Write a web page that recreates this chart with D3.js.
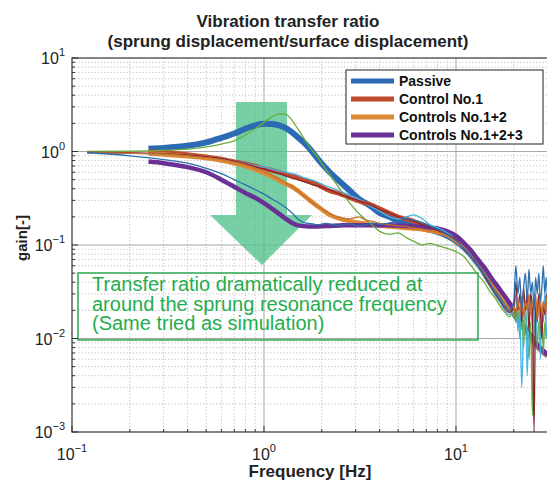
<!DOCTYPE html>
<html>
<head>
<meta charset="utf-8">
<script src="https://cdn.jsdelivr.net/npm/d3@7"></script>
<style>
  body { margin: 0; background: #fff; }
  text { font-family: "Liberation Sans", Arial, Helvetica, sans-serif; }
</style>
</head>
<body>
<div id="chart"></div>
<script>
// simulation curves (thick)
const simFreq = [0.25, 0.3, 0.4, 0.5, 0.6, 0.7, 0.8, 0.9, 1.0, 1.1, 1.2, 1.3, 1.4, 1.5, 1.7, 1.9, 2.2, 2.5, 2.8, 3.2, 3.6, 4, 4.5, 5, 6, 7, 8, 9, 10, 11, 12, 13, 14, 15, 17, 19, 21, 24, 27, 30];
const simPassive = [1.07, 1.09, 1.15, 1.25, 1.4, 1.56, 1.75, 1.9, 1.98, 1.97, 1.9, 1.78, 1.6, 1.42, 1.12, 0.84, 0.6, 0.47, 0.38, 0.3, 0.26, 0.22, 0.2, 0.18, 0.16, 0.148, 0.138, 0.125, 0.11, 0.094, 0.078, 0.063, 0.052, 0.043, 0.03, 0.022, 0.016, 0.011, 0.008, 0.0066];
const simCtrl1 = [1.0, 0.98, 0.93, 0.88, 0.83, 0.78, 0.74, 0.7, 0.66, 0.63, 0.6, 0.57, 0.55, 0.52, 0.48, 0.44, 0.38, 0.35, 0.32, 0.29, 0.27, 0.245, 0.22, 0.2, 0.18, 0.16, 0.145, 0.13, 0.112, 0.095, 0.079, 0.064, 0.053, 0.044, 0.031, 0.022, 0.016, 0.011, 0.008, 0.0066];
const simCtrl12 = [0.95, 0.93, 0.89, 0.85, 0.8, 0.75, 0.7, 0.64, 0.59, 0.54, 0.49, 0.45, 0.42, 0.38, 0.31, 0.26, 0.21, 0.19, 0.18, 0.172, 0.166, 0.162, 0.158, 0.155, 0.15, 0.145, 0.138, 0.128, 0.112, 0.096, 0.08, 0.065, 0.054, 0.045, 0.031, 0.022, 0.016, 0.011, 0.008, 0.0066];
const simCtrl123 = [0.78, 0.75, 0.68, 0.6, 0.5, 0.42, 0.36, 0.32, 0.28, 0.245, 0.215, 0.19, 0.172, 0.162, 0.158, 0.158, 0.16, 0.162, 0.163, 0.163, 0.163, 0.163, 0.163, 0.162, 0.158, 0.155, 0.15, 0.14, 0.125, 0.105, 0.087, 0.07, 0.058, 0.047, 0.033, 0.024, 0.017, 0.0115, 0.0082, 0.0067];

// measured curves (thin)
const measFreq = [0.12, 0.2, 0.3, 0.4, 0.5, 0.6, 0.7, 0.8, 0.9, 1.0, 1.1, 1.2, 1.3, 1.4, 1.5, 1.6, 1.7, 1.8, 1.9, 2.1, 2.4, 2.8, 3.1, 3.4, 3.7, 4.0, 4.5, 5.0, 5.5, 6.0, 6.7, 7.3, 8.2, 9.0, 10,
  11, 12, 13, 14, 15, 16, 17, 18, 19, 20, 20.5, 21, 21.5, 22, 22.5, 23, 23.5, 24, 24.5, 25, 25.5, 26, 26.5, 27, 27.5, 28, 28.5, 29, 29.5, 30];
const measPassive = [1.0, 1.01, 1.03, 1.06, 1.12, 1.2, 1.3, 1.5, 1.75, 2.05, 2.35, 2.52, 2.5, 2.15, 1.75, 1.42, 1.18, 1.0, 0.87, 0.64, 0.44, 0.28, 0.22, 0.185, 0.16, 0.14, 0.13, 0.135, 0.12, 0.11, 0.1, 0.104, 0.097, 0.092, 0.085,
  0.075, 0.06, 0.048, 0.04, 0.032, 0.027, 0.022, 0.019, 0.017, 0.02, 0.015, 0.022, 0.01, 0.018, 0.008, 0.02, 0.012, 0.006, 0.015, 0.0015, 0.012, 0.02, 0.008, 0.015, 0.01, 0.02, 0.007, 0.015, 0.01, 0.012];
const measCtrl1 = [0.98, 0.97, 0.95, 0.92, 0.88, 0.84, 0.79, 0.74, 0.69, 0.65, 0.61, 0.58, 0.55, 0.52, 0.5, 0.48, 0.46, 0.44, 0.43, 0.4, 0.36, 0.32, 0.3, 0.28, 0.26, 0.24, 0.22, 0.2, 0.19, 0.18, 0.165, 0.155, 0.14, 0.13, 0.115,
  0.09, 0.074, 0.06, 0.047, 0.037, 0.03, 0.025, 0.021, 0.019, 0.022, 0.04, 0.02, 0.03, 0.015, 0.035, 0.02, 0.03, 0.012, 0.03, 0.02, 0.001, 0.025, 0.015, 0.03, 0.02, 0.01, 0.025, 0.018, 0.03, 0.015];
const measOther = [0.97, 0.96, 0.94, 0.91, 0.87, 0.83, 0.79, 0.75, 0.71, 0.68, 0.65, 0.62, 0.6, 0.58, 0.56, 0.53, 0.51, 0.49, 0.47, 0.43, 0.39, 0.34, 0.31, 0.28, 0.25, 0.23, 0.2, 0.19, 0.2, 0.21, 0.19, 0.165, 0.15, 0.135, 0.115,
  0.088, 0.072, 0.058, 0.045, 0.036, 0.029, 0.024, 0.02, 0.018, 0.02, 0.03, 0.012, 0.02, 0.003, 0.015, 0.025, 0.004, 0.02, 0.03, 0.012, 0.025, 0.009, 0.02, 0.03, 0.006, 0.02, 0.015, 0.03, 0.01, 0.02];
const measCtrl12 = [0.97, 0.96, 0.94, 0.9, 0.86, 0.82, 0.77, 0.72, 0.66, 0.61, 0.56, 0.51, 0.46, 0.42, 0.38, 0.34, 0.31, 0.28, 0.26, 0.23, 0.2, 0.19, 0.2, 0.185, 0.178, 0.17, 0.165, 0.16, 0.158, 0.152, 0.148, 0.142, 0.135, 0.125, 0.11,
  0.092, 0.076, 0.062, 0.05, 0.04, 0.032, 0.026, 0.022, 0.02, 0.022, 0.018, 0.025, 0.02, 0.028, 0.017, 0.025, 0.02, 0.03, 0.018, 0.025, 0.02, 0.03, 0.016, 0.022, 0.028, 0.018, 0.025, 0.02, 0.028, 0.02];
const measCtrl123 = [0.97, 0.9, 0.82, 0.75, 0.66, 0.58, 0.5, 0.44, 0.39, 0.35, 0.31, 0.28, 0.25, 0.22, 0.19, 0.175, 0.17, 0.168, 0.165, 0.17, 0.162, 0.168, 0.16, 0.165, 0.17, 0.166, 0.172, 0.18, 0.19, 0.185, 0.172, 0.16, 0.145, 0.13, 0.112,
  0.092, 0.076, 0.062, 0.049, 0.039, 0.031, 0.026, 0.022, 0.02, 0.025, 0.06, 0.03, 0.045, 0.02, 0.035, 0.05, 0.025, 0.055, 0.03, 0.04, 0.02, 0.045, 0.03, 0.05, 0.025, 0.035, 0.06, 0.03, 0.045, 0.025];

const legendNames = ["Passive", "Control No.1", "Controls No.1+2", "Controls No.1+2+3"];
const simColors = ["#2c6bb3", "#c24b2e", "#dc8936", "#6a3096"];
const xDecadeLabels = [-1, 0, 1];
const yDecadeLabels = [-3, -2, -1, 0, 1];
const noteLines = ["Transfer ratio dramatically reduced at", "around the sprung resonance frequency", "(Same tried as simulation)"];

const width = 547, height = 485;
const svg = d3.select("#chart").append("svg")
  .attr("width", width).attr("height", height);

const x = d3.scaleLog().domain([0.1, 30]).range([72, 547.6]);
const y = d3.scaleLog().domain([1e-3, 10]).range([432, 58]);
const [x0, x1] = x.range();
const [yb, yt] = y.range();

svg.append("defs").append("clipPath").attr("id", "plot")
  .append("rect").attr("x", x0).attr("y", yt).attr("width", x1 - x0).attr("height", yb - yt);

const isMajor = v => Math.abs(Math.log10(v) - Math.round(Math.log10(v))) < 1e-9;

// grid
const grid = svg.append("g");
grid.selectAll(".gx").data(x.ticks().filter(v => v > 0.1 && v < 30))
  .join("line")
  .attr("x1", d => x(d)).attr("x2", d => x(d)).attr("y1", yt).attr("y2", yb)
  .attr("stroke", d => isMajor(d) ? "#a8a8a8" : "#c4b8b8")
  .attr("stroke-width", d => isMajor(d) ? 1 : 0.9)
  .attr("stroke-dasharray", d => isMajor(d) ? null : "1.2,2");
grid.selectAll(".gy").data(y.ticks().filter(v => v > 1e-3 && v < 10))
  .join("line")
  .attr("y1", d => y(d)).attr("y2", d => y(d)).attr("x1", x0).attr("x2", x1)
  .attr("stroke", d => isMajor(d) ? "#a8a8a8" : "#c4b8b8")
  .attr("stroke-width", d => isMajor(d) ? 1 : 0.9)
  .attr("stroke-dasharray", d => isMajor(d) ? null : "1.2,2");

// big green arrow
const ax = x(1.0) - 2;
const arrow = d3.path();
arrow.moveTo(ax - 26, 102); arrow.lineTo(ax + 25, 102); arrow.lineTo(ax + 25, 215);
arrow.lineTo(ax + 50, 215); arrow.lineTo(ax, 265); arrow.lineTo(ax - 52, 215);
arrow.lineTo(ax - 26, 215); arrow.closePath();
svg.append("path").attr("d", arrow.toString())
  .attr("fill", "#4fc18c").attr("fill-opacity", 0.78);

const line = d3.line()
  .x(d => x(d[0])).y(d => y(d[1]))
  .curve(d3.curveMonotoneX);

const plot = svg.append("g").attr("clip-path", "url(#plot)");

const simSeries = [simPassive, simCtrl1, simCtrl12, simCtrl123];
const simWidths = [6, 4.5, 4.5, 4.5];
simSeries.forEach((vals, i) => {
  plot.append("path")
    .attr("d", line(simFreq.map((f, k) => [f, vals[k]])))
    .attr("fill", "none").attr("stroke", simColors[i])
    .attr("stroke-width", simWidths[i]).attr("stroke-linejoin", "round");
});

const measSeries = [measPassive, measOther, measCtrl1, measCtrl12, measCtrl123];
const measColors = ["#6aad3c", "#45b5e5", "#8a2430", "#c8702a", "#2a6fae"];
measSeries.forEach((vals, i) => {
  plot.append("path")
    .attr("d", line(measFreq.map((f, k) => [f, vals[k]])))
    .attr("fill", "none").attr("stroke", measColors[i])
    .attr("stroke-width", 1.3).attr("stroke-linejoin", "round");
});

// annotation box
svg.append("rect").attr("x", 78).attr("y", 273).attr("width", 400).attr("height", 67)
  .attr("fill", "none").attr("stroke", "#3dac5c").attr("stroke-width", 1.6);
svg.append("g").selectAll("text").data(noteLines).join("text")
  .attr("x", 92).attr("y", (d, i) => 291 + i * 19.6)
  .attr("font-size", 20).attr("fill", "#1fae4e")
  .text(d => d);

// axes box and ticks
const axis = svg.append("g").attr("stroke", "#333");
axis.append("rect").attr("x", x0).attr("y", yt).attr("width", x1 - x0).attr("height", yb - yt)
  .attr("fill", "none").attr("stroke-width", 1.2);
axis.selectAll(".tx").data(x.ticks()).join("line")
  .attr("x1", d => x(d)).attr("x2", d => x(d))
  .attr("y1", yb).attr("y2", d => yb - (isMajor(d) ? 6 : 3));
axis.selectAll(".ty").data(y.ticks()).join("line")
  .attr("y1", d => y(d)).attr("y2", d => y(d))
  .attr("x1", x0).attr("x2", d => x0 + (isMajor(d) ? 6 : 3));

const sup = e => e < 0 ? "\u2212" + Math.abs(e) : String(e);

const xl = svg.append("g").selectAll("text").data(xDecadeLabels).join("text")
  .attr("x", d => x(Math.pow(10, d))).attr("y", 460)
  .attr("text-anchor", "middle").attr("fill", "#222").attr("font-size", 16);
xl.append("tspan").text("10");
xl.append("tspan").attr("dy", -8).attr("font-size", 11).text(d => sup(d));

const yl = svg.append("g").selectAll("text").data(yDecadeLabels).join("text")
  .attr("x", 65).attr("y", d => y(Math.pow(10, d)) + 6)
  .attr("text-anchor", "end").attr("fill", "#222").attr("font-size", 16);
yl.append("tspan").text("10");
yl.append("tspan").attr("dy", -8).attr("font-size", 11).text(d => sup(d));

// titles
svg.append("text").attr("x", 288).attr("y", 27).attr("text-anchor", "middle")
  .attr("font-size", 17).attr("font-weight", "bold").attr("fill", "#222")
  .text("Vibration transfer ratio");
svg.append("text").attr("x", 288).attr("y", 47).attr("text-anchor", "middle")
  .attr("font-size", 17).attr("font-weight", "bold").attr("fill", "#222")
  .text("(sprung displacement/surface displacement)");
svg.append("text").attr("x", 310).attr("y", 477).attr("text-anchor", "middle")
  .attr("font-size", 17).attr("font-weight", "bold").attr("fill", "#222")
  .text("Frequency [Hz]");
svg.append("text").attr("transform", "translate(27,238) rotate(-90)")
  .attr("text-anchor", "middle")
  .attr("font-size", 15).attr("font-weight", "bold").attr("fill", "#222")
  .text("gain[-]");

// legend
const legend = svg.append("g");
legend.append("rect").attr("x", 346).attr("y", 70).attr("width", 197).attr("height", 74)
  .attr("fill", "#fff").attr("stroke", "#222").attr("stroke-width", 1);
const item = legend.selectAll("g").data(legendNames).join("g")
  .attr("transform", (d, i) => `translate(0,${81 + i * 18})`);
item.append("line").attr("x1", 351).attr("x2", 394)
  .attr("stroke", (d, i) => simColors[i]).attr("stroke-width", 5);
item.append("text").attr("x", 399).attr("y", 5)
  .attr("font-size", 14).attr("font-weight", "bold").attr("fill", "#111")
  .text(d => d);
</script>
</body>
</html>
